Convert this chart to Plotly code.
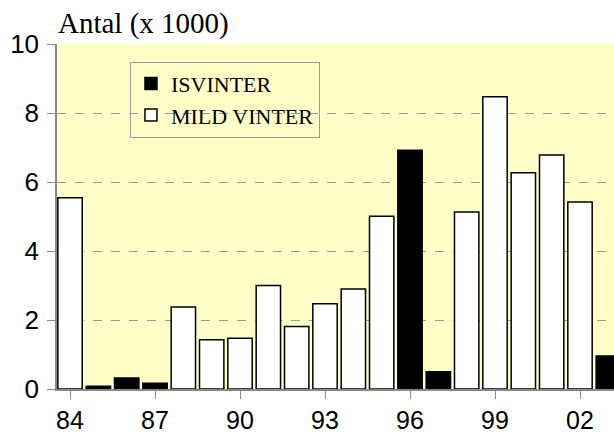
import plotly.graph_objects as go

years = list(range(1984, 2004))
values = [5.54, 0.08, 0.32, 0.17, 2.38, 1.43, 1.47, 3.00, 1.81, 2.47,
          2.90, 5.01, 6.92, 0.50, 5.13, 8.47, 6.27, 6.78, 5.42, 0.96]
winter_type = ["M", "I", "I", "I", "M", "M", "M", "M", "M", "M",
               "M", "M", "I", "I", "M", "M", "M", "M", "M", "I"]
tick_vals = [1984, 1987, 1990, 1993, 1996, 1999, 2002]
tick_text = ["84", "87", "90", "93", "96", "99", "02"]

is_x = [y for y, t in zip(years, winter_type) if t == "I"]
is_v = [v for v, t in zip(values, winter_type) if t == "I"]
mi_x = [y for y, t in zip(years, winter_type) if t == "M"]
mi_v = [v for v, t in zip(values, winter_type) if t == "M"]

fig = go.Figure()
fig.add_trace(go.Bar(x=is_x, y=is_v, name="ISVINTER", width=0.86,
                     marker=dict(color="black", line=dict(color="black", width=1.5))))
fig.add_trace(go.Bar(x=mi_x, y=mi_v, name="MILD VINTER", width=0.86,
                     marker=dict(color="white", line=dict(color="black", width=1.5))))

fig.update_layout(
    width=614, height=432,
    margin=dict(l=57, r=0, t=44, b=42.5, autoexpand=False),
    paper_bgcolor="white",
    plot_bgcolor="#FFFFC8",
    barmode="overlay",
    showlegend=True,
    legend=dict(x=0.131, y=0.949, xanchor="left", yanchor="top",
                bgcolor="rgba(0,0,0,0)", bordercolor="#999999", borderwidth=1,
                font=dict(family="Liberation Serif, Times New Roman, serif", size=22, color="black"),
                traceorder="normal", itemwidth=30, tracegroupgap=0),
    xaxis=dict(range=[83.54 + 1900, 103.2 + 1900], tickvals=tick_vals, ticktext=tick_text,
               automargin=False, ticklabelstandoff=0,
               showgrid=False, zeroline=False, showline=True, linecolor="#888888", linewidth=1.5,
               ticks="outside", ticklen=8, tickcolor="#888888",
               tickfont=dict(family="Liberation Sans, Arial, sans-serif", size=25, color="black")),
    yaxis=dict(range=[0, 10], tickvals=[0, 2, 4, 6, 8, 10], automargin=False,
               ticklabelstandoff=3,
               showgrid=True, gridcolor="#999999", griddash="dash", gridwidth=1,
               zeroline=False, showline=True, linecolor="#888888", linewidth=1.5,
               ticks="outside", ticklen=8, tickcolor="#888888",
               tickfont=dict(family="Liberation Sans, Arial, sans-serif", size=26, color="black")),
    annotations=[dict(text="Antal (x 1000)", xref="paper", yref="paper", x=0, y=1,
                      xanchor="left", yanchor="bottom", yshift=2, xshift=-1, showarrow=False,
                      font=dict(family="Liberation Serif, Times New Roman, serif", size=29, color="black"))],
)

fig.write_html("out.html", config={"displayModeBar": False},
               post_script="document.body.style.margin='0';document.body.style.overflow='hidden';")
